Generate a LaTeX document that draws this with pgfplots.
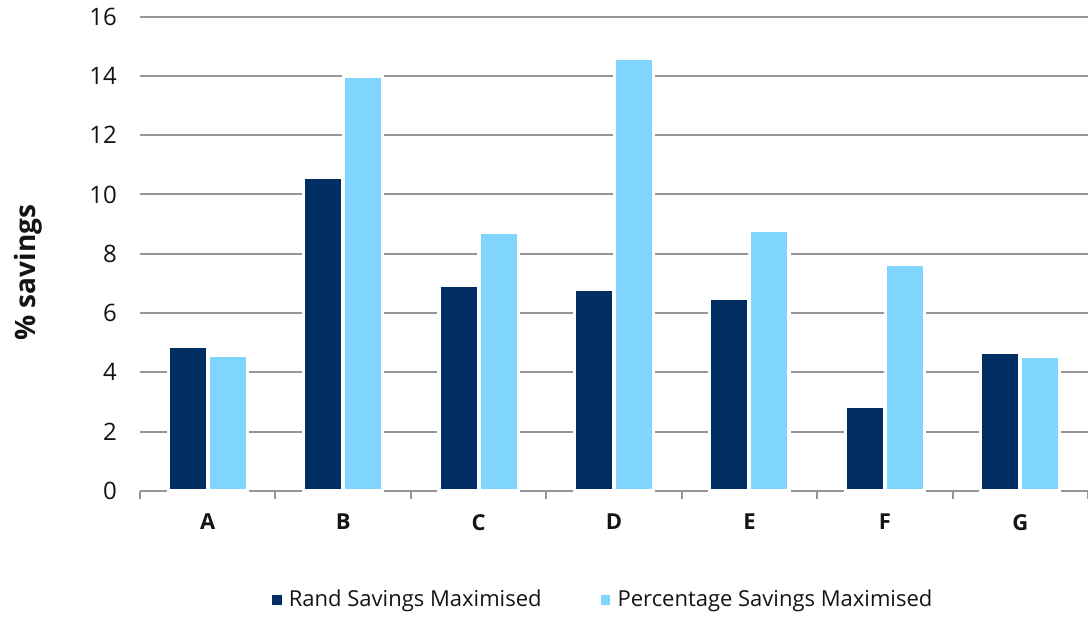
\documentclass[border=0pt]{standalone}
\usepackage{pgfplots}
\pgfplotsset{compat=1.18}
\usepackage{fontspec}
\setmainfont{Open Sans}
\definecolor{navy}{RGB}{0,46,98}
\definecolor{sky}{RGB}{128,213,255}
\definecolor{gridgray}{RGB}{150,150,150}
\definecolor{txt}{RGB}{20,20,20}
\begin{document}
\begin{tikzpicture}
\useasboundingbox (-70pt,-63pt) rectangle (474pt,245.5pt);
\begin{axis}[
  scale only axis,
  width=474pt, height=237.25pt,
  at={(0,0)}, anchor=south west,
  ybar, bar width=19.6pt,
  xmin=-0.5, xmax=6.5,
  ymin=0, ymax=16,
  axis y line*=left,
  axis x line*=bottom,
  y axis line style={draw=none},
  x axis line style={gridgray, line width=1pt, -},
  ytick={0,2,...,16},
  yticklabels={0,2,4,6,8,10,12,14,16},
  ymajorgrids,
  grid style={gridgray, line width=1pt},
  major tick length=0pt,
  xtick={0,...,6},
  xticklabels={A,B,C,D,E,F,G},
  minor xtick={-0.5,0.5,...,6.5},
  minor tick length=4pt,
  minor tick style={gridgray, line width=1pt},
  tick align=outside,
  x tick label style={font=\fontsize{11}{13}\selectfont\bfseries, text=txt, yshift=-8pt},
  y tick label style={font=\fontsize{12}{14}\selectfont, text=txt, xshift=-8pt},
  ylabel={\% savings},
  ylabel style={font=\fontsize{14}{16}\selectfont\bfseries, text=txt, at={(axis description cs:-0.118,0.46)}, anchor=center},
  legend style={at={(axis description cs:0.488,-0.23)}, anchor=center, draw=none, fill=none,
    font=\fontsize{11}{13}\selectfont, text=txt, legend columns=2,
    /tikz/every even column/.append style={column sep=26pt},
    legend cell align=left},
  clip=false,
]
\addplot[fill=navy, draw=white, line width=1.6pt, bar shift=-10pt,
  legend image code/.code={\path[fill=navy] (0pt,-3.2pt) rectangle (6.4pt,3.2pt);}]
  coordinates {(0,4.88) (1,10.59) (2,6.93) (3,6.79) (4,6.49) (5,2.86) (6,4.66)};
\addlegendentry{Rand Savings Maximised}
\addplot[fill=sky, draw=white, line width=1.6pt, bar shift=10pt,
  legend image code/.code={\path[fill=sky] (0pt,-3.2pt) rectangle (6.4pt,3.2pt);}]
  coordinates {(0,4.58) (1,13.98) (2,8.71) (3,14.59) (4,8.78) (5,7.65) (6,4.55)};
\addlegendentry{Percentage Savings Maximised}
\end{axis}
\end{tikzpicture}
\end{document}
